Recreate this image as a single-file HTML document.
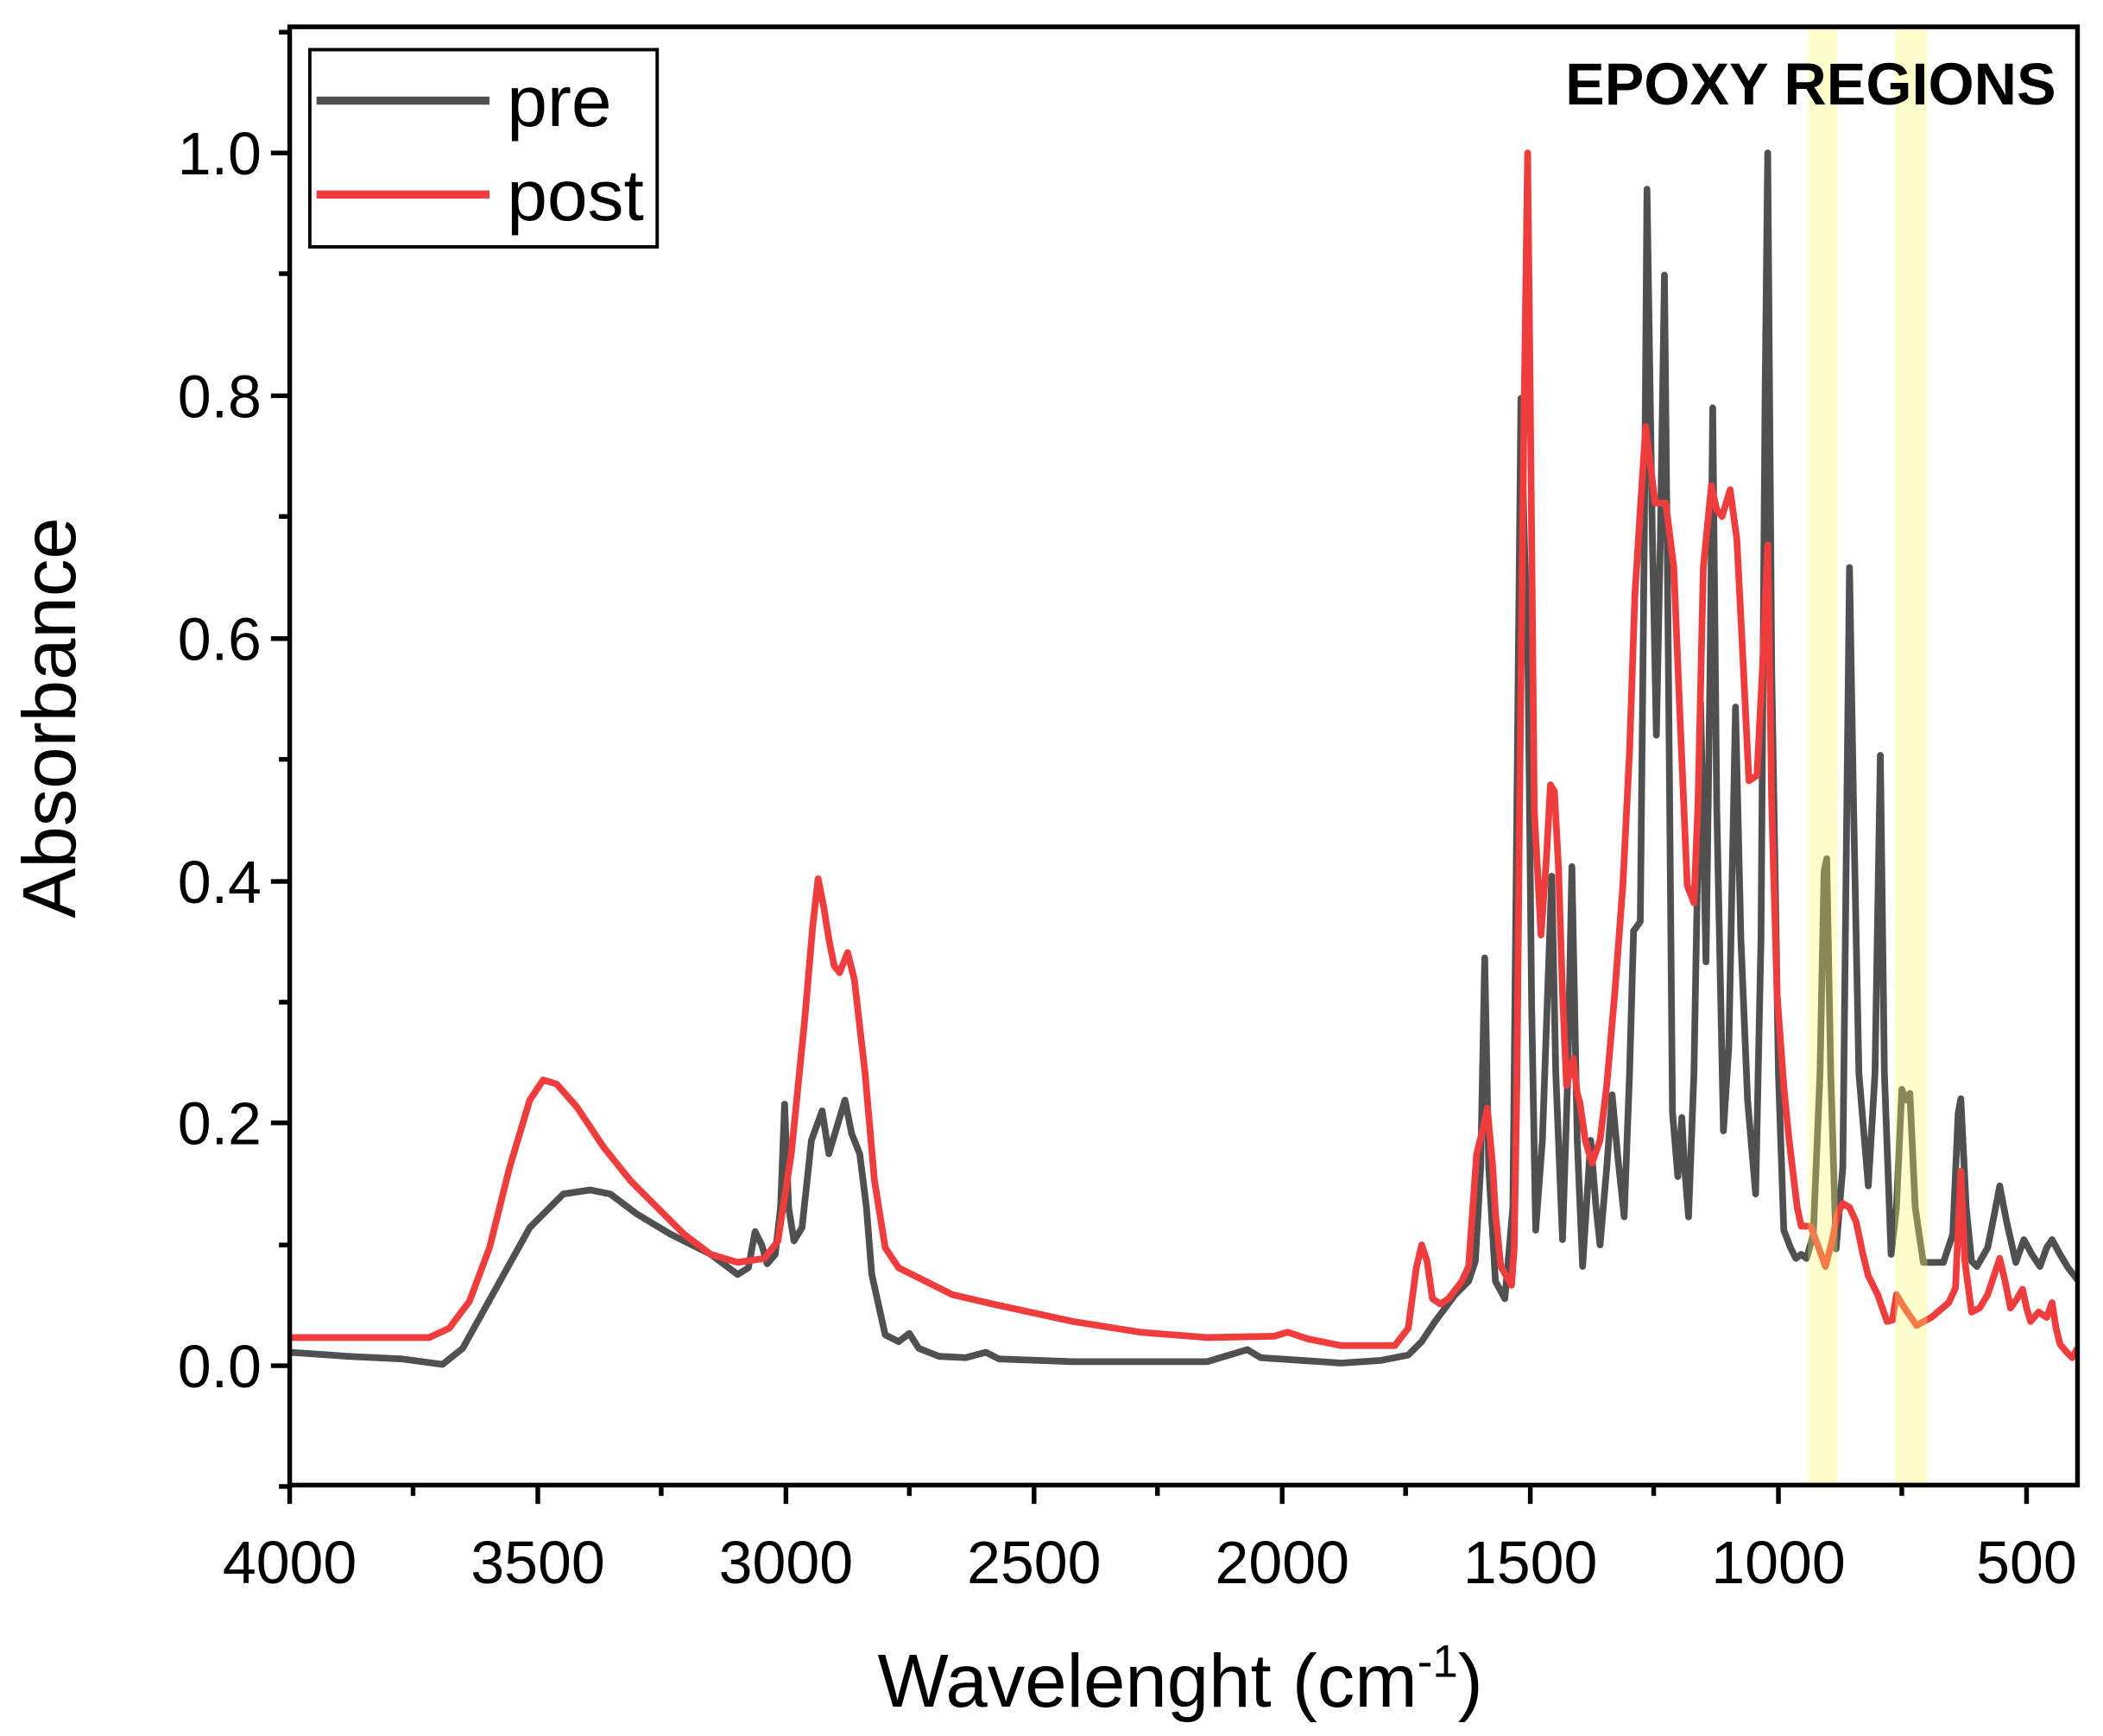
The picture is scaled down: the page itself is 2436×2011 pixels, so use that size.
<!DOCTYPE html>
<html><head><meta charset="utf-8"><style>
html,body{margin:0;padding:0;background:#fff}
svg{display:block}
text{font-family:"Liberation Sans",Arial,sans-serif}
</style></head><body>
<svg width="2436" height="2011" viewBox="0 0 1568 1294" preserveAspectRatio="none" xmlns="http://www.w3.org/2000/svg">
<rect width="1568" height="1294" fill="#fff"/>
<defs><clipPath id="c"><rect x="216" y="20" width="1333" height="1087"/></clipPath></defs>
<g clip-path="url(#c)" fill="none" stroke-width="5" stroke-linejoin="round">
<polyline stroke="#505050" points="216,1008 260,1011 300,1013 330,1017 345,1005 370,960 395,915 420,890 440,887 455,890 475,905 500,920 530,935 550,950 558,945 563,918 568,928 572,942 578,935 582,900 585,823 588,900 592,925 598,915 605,850 613,828 618,860 624,840 630,820 635,845 641,860 646,900 650,950 660,995 670,1000 678,994 685,1005 700,1011 720,1012 735,1008 745,1013 800,1015 900,1015 930,1006 940,1012 1000,1016 1030,1014 1050,1010 1060,1000 1070,985 1085,965 1095,955 1100,940 1104,870 1107,714 1110,870 1115,955 1122,968 1128,900 1131,600 1134,297 1137,420 1139,470 1142,750 1145,917 1150,850 1157,653 1160,800 1165,924 1169,800 1172,646 1176,850 1180,944 1186,850 1190,900 1193,928 1198,870 1202,816 1206,860 1211,907 1215,800 1218,694 1223,687 1226,400 1228,141 1232,400 1235,548 1238,400 1241,205 1244,500 1247,829 1251,877 1254,833 1256,870 1259,907 1263,800 1268,524 1272,717 1275,500 1277,304 1280,600 1285,843 1289,780 1294,527 1298,700 1303,820 1309,890 1313,700 1316,300 1318,114 1321,500 1326,800 1330,917 1335,930 1339,938 1343,935 1347,938 1352,920 1357,800 1360,650 1362,640 1365,800 1369,931 1374,870 1377,600 1379,423 1382,600 1386,800 1393,884 1398,800 1402,563 1405,800 1410,935 1414,900 1418,812 1421,820 1424,815 1428,900 1434,941 1449,941 1456,920 1460,830 1462,819 1466,900 1470,940 1474,944 1482,930 1487,905 1491,884 1496,910 1503,941 1509,924 1515,935 1521,944 1526,930 1530,924 1536,935 1542,945 1549,954"/>
<polyline stroke="#ef3d3d" points="216,997 320,997 335,990 350,970 365,930 380,870 395,820 405,805 415,808 430,825 450,855 470,880 490,900 510,920 530,935 550,941 570,938 580,925 590,860 600,760 606,690 610,655 614,675 618,700 622,720 626,725 632,710 637,730 645,800 652,880 660,930 670,945 690,955 710,965 740,972 800,985 850,993 900,997 950,996 960,993 975,998 1000,1003 1040,1003 1050,990 1056,945 1060,928 1064,940 1068,968 1074,972 1080,968 1090,955 1095,944 1101,860 1106,840 1109,826 1113,870 1115,904 1119,944 1127,958 1129,930 1131,809 1133,600 1136,334 1139,114 1141,300 1144,605 1149,697 1153,640 1156,585 1159,590 1162,646 1165,740 1168,809 1173,789 1176,815 1178,822 1182,850 1187,867 1193,850 1198,809 1204,740 1210,660 1215,560 1219,443 1223,380 1227,318 1231,350 1234,375 1242,375 1248,423 1252,520 1258,660 1263,673 1266,600 1270,423 1276,362 1280,380 1284,385 1290,365 1295,402 1299,480 1304,582 1310,578 1314,500 1318,406 1321,600 1325,741 1330,810 1334,850 1340,900 1343,914 1350,914 1356,930 1361,944 1366,925 1370,905 1374,897 1379,900 1384,911 1389,935 1393,951 1400,965 1407,985 1411,984 1414,965 1420,975 1429,988 1440,982 1453,971 1458,960 1462,873 1465,940 1470,978 1476,975 1482,965 1487,950 1491,938 1495,955 1499,975 1504,968 1508,961 1511,975 1514,985 1520,978 1526,982 1530,971 1533,990 1536,1002 1541,1008 1545,1012 1549,1005"/>
</g>
<rect x="1348" y="20" width="22" height="1087" fill="#ffff66" opacity="0.33"/>
<rect x="1413" y="20" width="24" height="1087" fill="#ffff66" opacity="0.33"/>
<rect x="216" y="20" width="1333" height="1087" fill="none" stroke="#000" stroke-width="3.5"/>
<g stroke="#000" stroke-width="3.5">
<line x1="202" y1="1018" x2="216" y2="1018"/><line x1="202" y1="837" x2="216" y2="837"/><line x1="202" y1="657" x2="216" y2="657"/><line x1="202" y1="476" x2="216" y2="476"/><line x1="202" y1="295" x2="216" y2="295"/><line x1="202" y1="114" x2="216" y2="114"/>
<line x1="208" y1="1108" x2="216" y2="1108"/><line x1="208" y1="928" x2="216" y2="928"/><line x1="208" y1="747" x2="216" y2="747"/><line x1="208" y1="566" x2="216" y2="566"/><line x1="208" y1="385" x2="216" y2="385"/><line x1="208" y1="204" x2="216" y2="204"/><line x1="208" y1="24" x2="216" y2="24"/>
<line x1="216" y1="1107" x2="216" y2="1121"/><line x1="401" y1="1107" x2="401" y2="1121"/><line x1="586" y1="1107" x2="586" y2="1121"/><line x1="771" y1="1107" x2="771" y2="1121"/><line x1="956" y1="1107" x2="956" y2="1121"/><line x1="1141" y1="1107" x2="1141" y2="1121"/><line x1="1326" y1="1107" x2="1326" y2="1121"/><line x1="1511" y1="1107" x2="1511" y2="1121"/>
<line x1="308" y1="1107" x2="308" y2="1115"/><line x1="493" y1="1107" x2="493" y2="1115"/><line x1="678" y1="1107" x2="678" y2="1115"/><line x1="863" y1="1107" x2="863" y2="1115"/><line x1="1048" y1="1107" x2="1048" y2="1115"/><line x1="1233" y1="1107" x2="1233" y2="1115"/><line x1="1418" y1="1107" x2="1418" y2="1115"/>
</g>
<g font-size="45" text-anchor="end" fill="#000">
<text x="195" y="1034">0.0</text><text x="195" y="853">0.2</text><text x="195" y="673">0.4</text><text x="195" y="492">0.6</text><text x="195" y="311">0.8</text><text x="195" y="130">1.0</text>
</g>
<g font-size="45" text-anchor="middle" fill="#000">
<text x="216" y="1180">4000</text><text x="401" y="1180">3500</text><text x="586" y="1180">3000</text><text x="771" y="1180">2500</text><text x="956" y="1180">2000</text><text x="1141" y="1180">1500</text><text x="1326" y="1180">1000</text><text x="1511" y="1180">500</text>
</g>
<text x="880" y="1272" font-size="56" text-anchor="middle">Wavelenght (cm<tspan font-size="34" dy="-22">-1</tspan><tspan dy="22">)</tspan></text>
<text transform="translate(56,535) rotate(-90)" font-size="56" text-anchor="middle">Absorbance</text>
<rect x="231" y="37" width="259" height="147" fill="#fff" stroke="#000" stroke-width="2.5"/>
<line x1="236" y1="75" x2="365" y2="75" stroke="#505050" stroke-width="6"/>
<line x1="236" y1="145" x2="365" y2="145" stroke="#ef3d3d" stroke-width="6"/>
<text x="378" y="94" font-size="54">pre</text>
<text x="378" y="164" font-size="54">post</text>
<text x="1533" y="78" font-size="44" font-weight="bold" text-anchor="end">EPOXY REGIONS</text>
</svg>
</body></html>
